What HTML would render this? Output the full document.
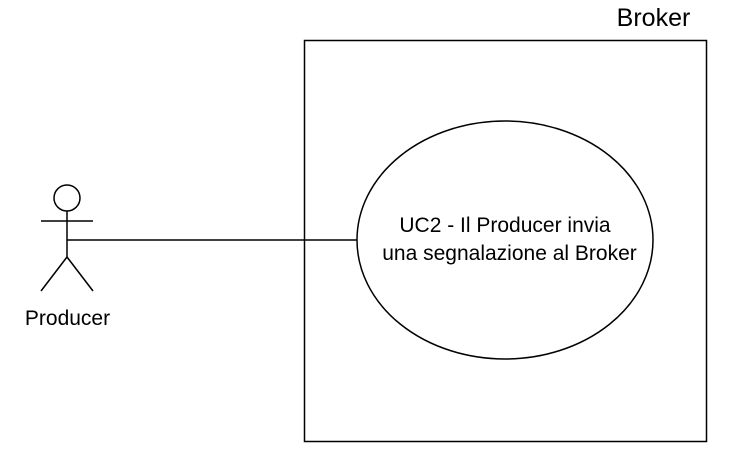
<!DOCTYPE html>
<html><head><style>body{margin:0;background:#fff}</style></head><body>
<svg width="739" height="455" xmlns="http://www.w3.org/2000/svg" font-family="Liberation Sans, Arial, sans-serif">
<rect x="304.5" y="40.5" width="402" height="401" fill="#fff" stroke="#000" stroke-width="1.5"/>
<text x="653.5" y="26" font-size="25" text-anchor="middle">Broker</text>
<ellipse cx="505" cy="240" rx="148" ry="119" fill="#fff" stroke="#000" stroke-width="1.5"/>
<text x="505" y="232" font-size="21" text-anchor="middle">UC2 - Il Producer invia</text>
<text x="509.5" y="260" font-size="21" text-anchor="middle">una segnalazione al Broker</text>
<line x1="67" y1="240" x2="357" y2="240" stroke="#000" stroke-width="1.5"/>
<g stroke="#000" stroke-width="1.5" fill="#fff">
<circle cx="67" cy="198" r="13"/>
<line x1="67" y1="211" x2="67" y2="257"/>
<line x1="41" y1="221" x2="93" y2="221"/>
<line x1="67" y1="257" x2="41" y2="291"/>
<line x1="67" y1="257" x2="93" y2="291"/>
</g>
<text x="67.5" y="325" font-size="21" text-anchor="middle">Producer</text>
</svg>
</body></html>
